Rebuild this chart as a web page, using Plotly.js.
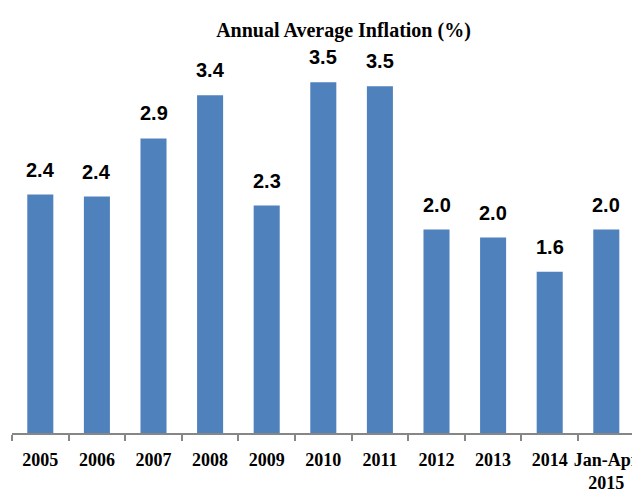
<!DOCTYPE html>
<html>
<head>
<meta charset="utf-8">
<script src="https://cdn.plot.ly/plotly-3.0.1.min.js"></script>
<style>
html, body { margin: 0; padding: 0; background: #ffffff; overflow: hidden; }
#chart { width: 632px; height: 491px; }
</style>
</head>
<body>
<div id="chart"></div>
<script>
const categories = ["2005", "2006", "2007", "2008", "2009", "2010", "2011", "2012", "2013", "2014", "Jan-Apr<br>2015"];
const inflation = [2.38, 2.36, 2.94, 3.37, 2.27, 3.50, 3.46, 2.03, 1.95, 1.61, 2.03];
const valueLabels = ["2.4", "2.4", "2.9", "3.4", "2.3", "3.5", "3.5", "2.0", "2.0", "1.6", "2.0"];
const chartTitle = "Annual Average Inflation (%)";

const labelFont = { family: "Liberation Sans Narrow, Liberation Sans, Arial, sans-serif", size: 20, color: "#000000", weight: 700 };
const serifFont = "Liberation Serif, Times New Roman, serif";

const trace = {
  type: "bar",
  x: categories,
  y: inflation,
  marker: { color: "#4F81BD" },
  hoverinfo: "x+y"
};

// annotation x on a category axis given as the category index
const annotations = categories.map((c, i) => ({
  x: i,
  y: inflation[i],
  xref: "x",
  yref: "y",
  text: "<b>" + valueLabels[i] + "</b>",
  showarrow: false,
  xanchor: "center",
  yanchor: "bottom",
  yshift: 12,
  font: labelFont
}));

const layout = {
  width: 632,
  height: 491,
  margin: { l: 12, r: 0, t: 30, b: 58 },
  paper_bgcolor: "#ffffff",
  plot_bgcolor: "#ffffff",
  showlegend: false,
  bargap: 0.54,
  title: {
    text: "<b>" + chartTitle + "</b>",
    font: { family: serifFont, size: 20, color: "#000000" },
    xref: "container",
    yref: "container",
    x: 343.5 / 632,
    xanchor: "center",
    y: 1 - 30 / 491,
    yanchor: "middle"
  },
  xaxis: {
    type: "category",
    range: [-0.5, 10.454],
    showline: true,
    linecolor: "#868686",
    linewidth: 2,
    ticks: "outside",
    tickson: "boundaries",
    ticklen: 6,
    tickwidth: 2,
    tickcolor: "#868686",
    tickangle: 0,
    ticklabelstandoff: 9,
    showgrid: false,
    zeroline: false,
    tickfont: { family: serifFont, size: 18, color: "#000000", weight: 700 },
    fixedrange: true
  },
  yaxis: {
    range: [0, 4.022],
    visible: false,
    showgrid: false,
    zeroline: false,
    fixedrange: true
  },
  annotations: annotations
};

Plotly.newPlot("chart", [trace], layout, { displayModeBar: false, staticPlot: true });
</script>
</body>
</html>
